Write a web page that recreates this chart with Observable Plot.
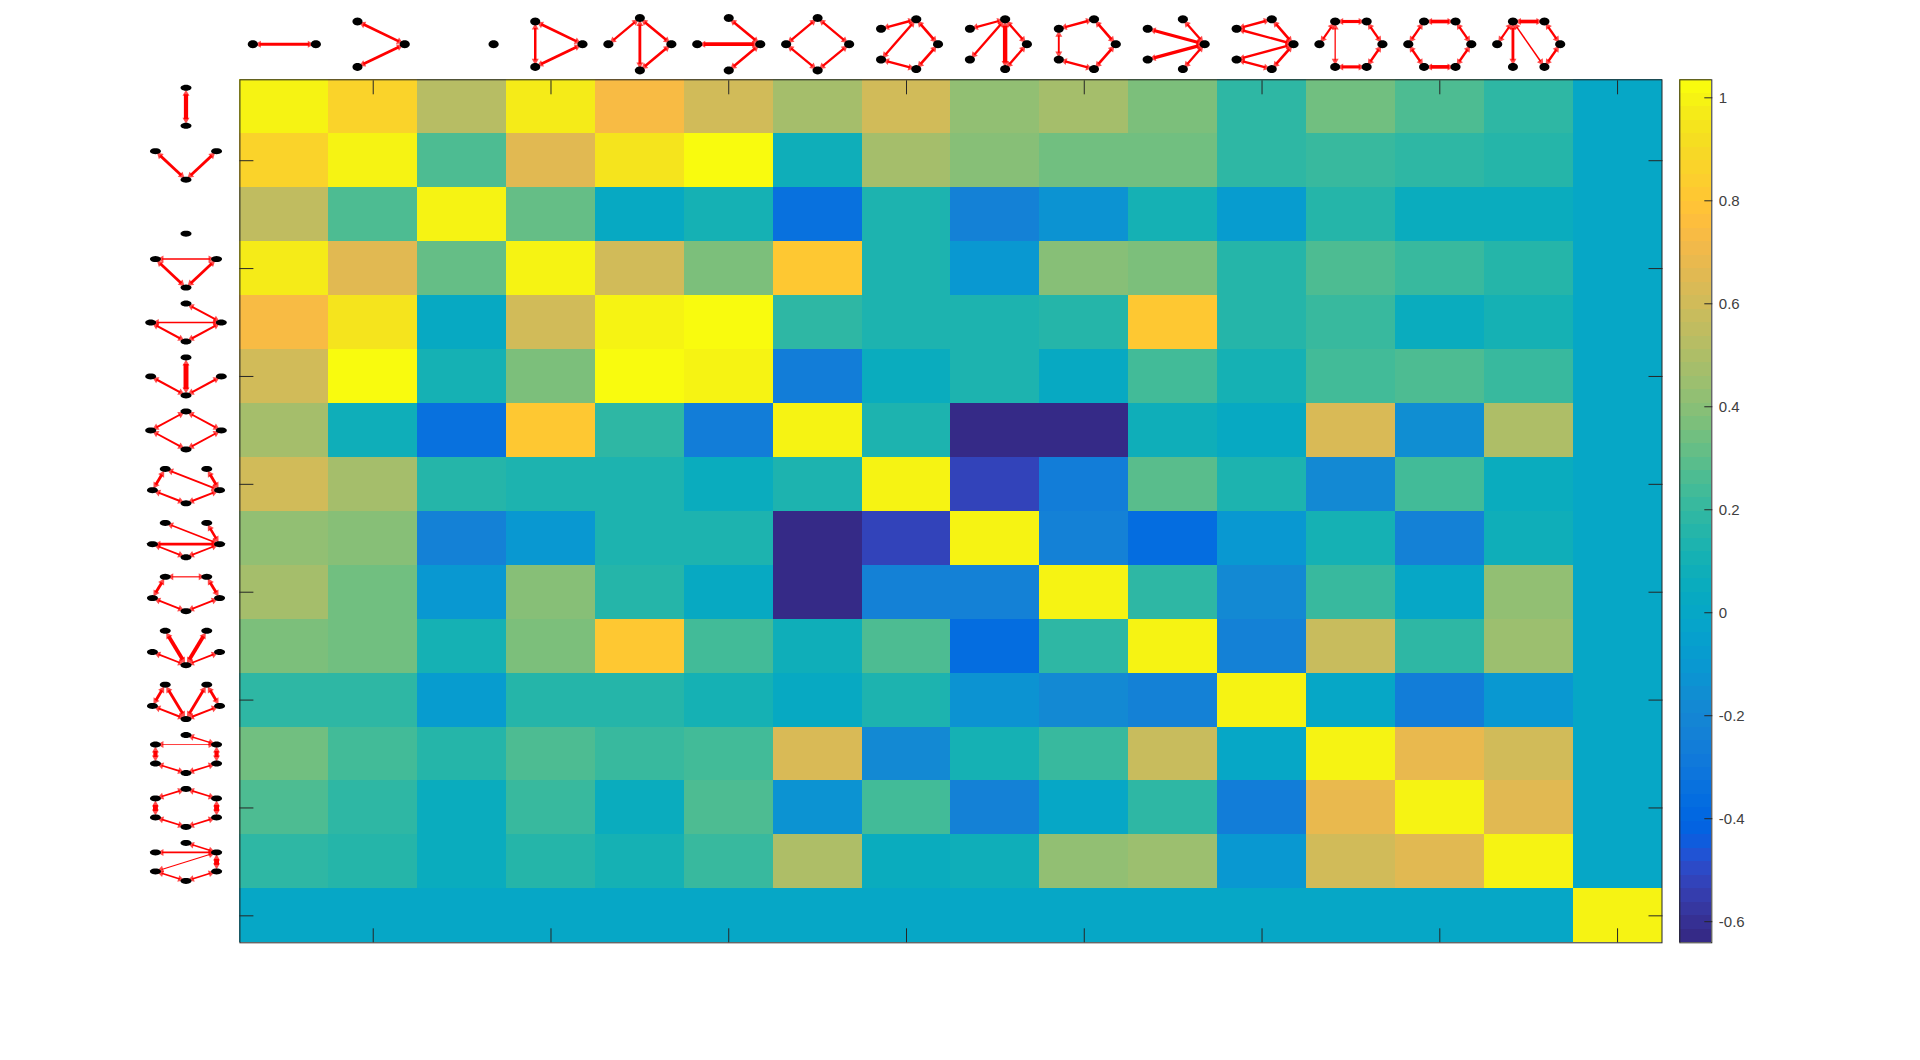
<!DOCTYPE html>
<html><head><meta charset="utf-8">
<script src="https://cdn.jsdelivr.net/npm/d3@7"></script>
<script src="https://cdn.jsdelivr.net/npm/@observablehq/plot@0.6"></script>
<style>
html,body{margin:0;padding:0;background:#fff;overflow:hidden}
#chart{position:relative;width:1920px;height:1060px}
#chart svg{position:absolute;left:0;top:0;background:transparent;font-family:"Liberation Sans",Arial,sans-serif}
</style></head><body><div id="chart"></div>
<script>
const row01=[.995,.865,.524,.969,.734,.603,.472,.603,.42,.472,.367,.184,.341,.262,.184,.001];
const row02=[.865,.995,.262,.655,.943,1.021,.079,.472,.393,.341,.341,.184,.21,.184,.158,.001];
const row03=[.55,.262,.995,.315,.027,.105,-.339,.131,-.235,-.13,.105,-.078,.158,.053,.053,.001];
const row04=[.969,.655,.315,.995,.603,.367,.812,.131,-.104,.393,.367,.158,.262,.21,.158,.001];
const row05=[.734,.943,.027,.603,.995,1.021,.184,.131,.131,.158,.812,.158,.21,.053,.105,.001];
const row06=[.603,1.021,.105,.367,1.021,.995,-.261,.053,.131,.027,.236,.105,.236,.262,.21,.001];
const row07=[.472,.079,-.339,.812,.184,-.261,.995,.131,-.628,-.628,.079,.027,.629,-.156,.498,.001];
const row08=[.603,.472,.158,.131,.131,.053,.131,.995,-.523,-.261,.288,.131,-.182,.236,.053,.001];
const row09=[.42,.393,-.235,-.104,.131,.131,-.628,-.523,.995,-.235,-.366,-.104,.105,-.235,.079,.001];
const row10=[.472,.341,-.104,.393,.158,.027,-.628,-.235,-.235,.995,.184,-.182,.21,.001,.42,.001];
const row11=[.367,.341,.105,.367,.812,.236,.079,.262,-.366,.184,.995,-.235,.577,.184,.446,.001];
const row12=[.184,.184,-.078,.158,.158,.105,.027,.131,-.13,-.182,-.235,.995,.001,-.261,-.104,.001];
const row13=[.341,.236,.158,.262,.21,.236,.629,-.182,.105,.21,.577,.001,.995,.681,.603,.001];
const row14=[.262,.184,.053,.21,.053,.262,-.13,.236,-.235,.001,.184,-.261,.681,.995,.655,.001];
const row15=[.184,.158,.053,.158,.105,.21,.498,.053,.079,.42,.446,-.104,.603,.655,.995,.001];
const row16=[.001,.001,.001,.001,.001,.001,.001,.001,.001,.001,.001,.001,.001,.001,.001,.995];
const rows=[row01,row02,row03,row04,row05,row06,row07,row08,row09,row10,row11,row12,row13,row14,row15,row16];
const colorMin=-.641,colorMax=1.035;
const colorTicks=[-.6,-.4,-.2,0,.2,.4,.6,.8,1];
const axisTicks=[2,4,6,8,10,12,14,16];
const parula=[[.2081,.1663,.5292],[.2116,.1898,.5777],[.2123,.2138,.627],[.2081,.2386,.6771],[.1959,.2645,.7279],[.1707,.2919,.7792],[.1253,.3242,.8303],[.0591,.3598,.8683],[.0117,.3875,.882],[.006,.4086,.8828],[.0165,.4266,.8786],[.0329,.443,.872],[.0498,.4586,.8641],[.0629,.4737,.8554],[.0723,.4887,.8467],[.0779,.504,.8384],[.0793,.52,.8312],[.0749,.5375,.8263],[.0641,.557,.824],[.0488,.5772,.8228],[.0343,.5966,.8199],[.0265,.6137,.8135],[.0239,.6287,.8038],[.0231,.6418,.7913],[.0228,.6535,.7768],[.0267,.6642,.7607],[.0384,.6743,.7436],[.059,.6838,.7254],[.0843,.6928,.7062],[.1133,.7015,.6859],[.1453,.7098,.6646],[.1801,.7177,.6424],[.2178,.725,.6193],[.2586,.7317,.5954],[.3022,.7376,.5712],[.3482,.7424,.5473],[.3953,.7459,.5244],[.442,.7481,.5033],[.4871,.7491,.484],[.53,.7491,.4661],[.5709,.7485,.4494],[.6099,.7473,.4337],[.6473,.7456,.4188],[.6834,.7435,.4044],[.7184,.7411,.3905],[.7525,.7384,.3768],[.7858,.7356,.3633],[.8185,.7327,.3498],[.8507,.7299,.336],[.8824,.7274,.3217],[.9139,.7258,.3063],[.945,.7261,.2886],[.9739,.7314,.2666],[.9938,.7455,.2403],[.999,.7653,.2164],[.9955,.7861,.1967],[.988,.8066,.1794],[.9789,.8271,.1633],[.9697,.8481,.1475],[.9626,.8705,.1309],[.9589,.8949,.1132],[.9598,.9218,.0948],[.9661,.9514,.0755],[.9763,.9831,.0538]].map(c=>`rgb(${c.map(v=>Math.round(v*255)).join(",")})`);

// graphs: node count and [from, to, edge weight]
const graph01={n:2,edges:[[0,1,.12]]};
const graph02={n:3,edges:[[0,1,.1],[0,2,.1]]};
const graph03={n:1,edges:[]};
const graph04={n:3,edges:[[0,1,.1],[0,2,.1],[1,2,.08]]};
const graph05={n:4,edges:[[1,2,.08],[1,0,.09],[0,3,.09],[1,3,.09]]};
const graph06={n:4,edges:[[0,1,.09],[0,2,.14],[0,3,.09]]};
const graph07={n:4,edges:[[0,1,.08],[1,2,.08],[2,3,.08],[3,0,.08]]};
const graph08={n:5,edges:[[0,1,.09],[1,2,.09],[1,3,.08],[3,4,.09],[4,0,.09]]};
const graph09={n:5,edges:[[0,1,.08],[1,2,.08],[1,3,.08],[1,4,.14],[4,0,.08]]};
const graph10={n:5,edges:[[0,1,.09],[1,2,.09],[2,3,.06],[3,4,.09],[4,0,.09]]};
const graph11={n:5,edges:[[0,1,.08],[0,2,.12],[0,3,.12],[0,4,.08]]};
const graph12={n:5,edges:[[0,1,.09],[0,2,.09],[0,3,.09],[0,4,.09],[1,2,.09],[3,4,.09]]};
const graph13={n:6,edges:[[0,1,.08],[1,2,.12],[2,3,.07],[2,4,.04],[4,5,.12],[5,0,.08]]};
const graph14={n:6,edges:[[0,1,.08],[1,2,.14],[2,3,.08],[3,4,.08],[4,5,.14],[5,0,.08]]};
const graph15={n:6,edges:[[0,1,.08],[1,2,.14],[2,3,.07],[2,4,.09],[2,5,.05],[5,0,.08]]};
const graphs=[graph01,graph02,graph03,graph04,graph05,graph06,graph07,graph08,graph09,graph10,graph11,graph12,graph13,graph14,graph15];

const cells=rows.flatMap((r,i)=>r.map((v,j)=>({col:j+1,row:i+1,v})));
const L=239.4,R=1661.5,T=79.3,B=942.3,cw=(R-L)/16,ch=(B-T)/16;
const colorThresholds=parula.slice(1).map((_,i)=>colorMin+(i+1)*(colorMax-colorMin)/64);
const colorScale={type:"threshold",domain:colorThresholds,range:parula};

// circular layout of each little graph, in cell units around its axis slot
const tipGap=4.5,headLen=3;
function layout(cx,cy,rx,ry,rot,pxX,pxY){
  return g=>{
    const p=k=>{const t=2*Math.PI*k/g.n+rot;return [cx+rx*Math.cos(t),cy-ry*Math.sin(t)];};
    const nodes=d3.range(g.n).map(p);
    const edges=[],heads=[];
    for(const [a,b,w] of g.edges){
      const [xa,ya]=p(a),[xb,yb]=p(b);
      const dx=(xb-xa)*cw,dy=(yb-ya)*ch,len=Math.hypot(dx,dy);
      const ux=dx/len,uy=dy/len;
      const width=w*Math.hypot(pxY*ux,pxX*uy);
      const at=d=>[xa+ux*d/cw,ya+uy*d/ch];
      const [x1,y1]=at(tipGap+headLen-1),[x2,y2]=at(len-tipGap-headLen+1);
      edges.push({x1,y1,x2,y2,width});
      const angle=Math.atan2(ux,-uy)*180/Math.PI;
      const [hx1,hy1]=at(tipGap+headLen/2),[hx2,hy2]=at(len-tipGap-headLen/2);
      heads.push({x:hx1,y:hy1,angle:angle+180},{x:hx2,y:hy2,angle});
    }
    return {nodes,edges,heads};
  };
}
const topRx=31.5,topRy=26.2,leftRx=35.3,leftRy=19;
const topY=.5+(43.7-T)/ch,leftX=.5+(185.5-L)/cw;
const topGlyphs=graphs.map((g,i)=>layout(i+1,topY,topRx/cw,topRy/ch,0,topRx,topRy)(g));
const leftGlyphs=graphs.map((g,i)=>layout(leftX,i+1,leftRx/cw,leftRy/ch,-Math.PI/2,leftRx,leftRy)(g));
const allGlyphs=[...topGlyphs,...leftGlyphs];
const allEdges=allGlyphs.flatMap(g=>g.edges),allHeads=allGlyphs.flatMap(g=>g.heads);
const topNodes=topGlyphs.flatMap(g=>g.nodes),leftNodes=leftGlyphs.flatMap(g=>g.nodes);
const ellipse=(a,b)=>({draw(c){for(let i=0;i<24;i++){const t=i/24*2*Math.PI,x=a*Math.cos(t),y=b*Math.sin(t);i?c.lineTo(x,y):c.moveTo(x,y);}c.closePath();}});
const axisColor="#262626";
const insideTicks=(axis,anchor)=>axis({anchor,ticks:axisTicks,tickSize:-14,text:null,label:null,stroke:axisColor});

const main=Plot.plot({
  width:1920,height:1060,marginLeft:L,marginRight:1920-R,marginTop:T,marginBottom:1060-B,
  x:{domain:[.5,16.5],axis:null},y:{domain:[16.5,.5],axis:null},
  color:colorScale,
  marks:[
    Plot.rect(cells,{x1:d=>d.col-.5,x2:d=>d.col+.5,y1:d=>d.row-.5,y2:d=>d.row+.5,fill:"v",shapeRendering:"crispEdges"}),
    insideTicks(Plot.axisX,"top"),insideTicks(Plot.axisX,"bottom"),
    insideTicks(Plot.axisY,"left"),insideTicks(Plot.axisY,"right"),
    Plot.frame({stroke:axisColor}),
    Plot.link(allEdges,{x1:"x1",y1:"y1",x2:"x2",y2:"y2",stroke:"#ff0000",strokeWidth:"width"}),
    Plot.dot(allHeads,{x:"x",y:"y",rotate:"angle",symbol:"triangle",r:2.6,fill:"#ff0000",fillOpacity:.7}),
    Plot.dot(topNodes,{x:d=>d[0],y:d=>d[1],fill:"black",symbol:ellipse(5,4)}),
    Plot.dot(leftNodes,{x:d=>d[0],y:d=>d[1],fill:"black",symbol:ellipse(5.5,3)})
  ]
});
const bands=parula.map((_,i)=>({a:colorMin+i*(colorMax-colorMin)/64,b:colorMin+(i+1)*(colorMax-colorMin)/64}));
const bar=Plot.plot({
  width:1920,height:1060,marginLeft:1679.3,marginRight:1920-1711.3,marginTop:T,marginBottom:1060-B,
  x:{domain:[0,1],axis:null},y:{domain:[colorMin,colorMax],axis:null},
  color:colorScale,
  marks:[
    Plot.rect(bands,{x1:0,x2:1,y1:"a",y2:"b",fill:d=>(d.a+d.b)/2,shapeRendering:"crispEdges"}),
    Plot.axisY({anchor:"right",ticks:colorTicks,tickSize:-8,text:null,label:null,stroke:axisColor}),
    Plot.axisY({anchor:"right",ticks:colorTicks,tickSize:0,tickPadding:7,label:null,tickFormat:d=>String(d),fontSize:15,fill:"#404040",textAnchor:"start"}),
    Plot.frame({stroke:axisColor})
  ]
});
const chart=document.getElementById("chart");
chart.append(main,bar);
</script></body></html>
